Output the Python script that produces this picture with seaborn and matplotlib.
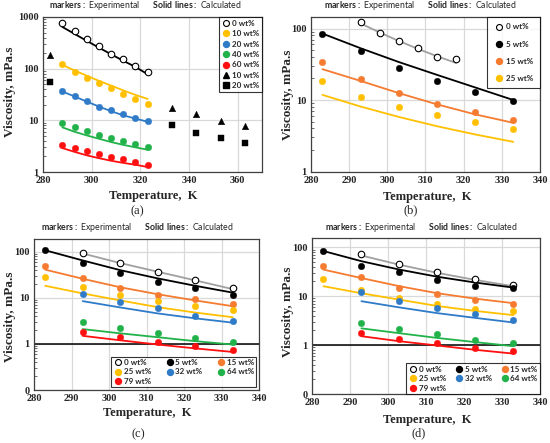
import numpy as np
import pandas as pd
import matplotlib
matplotlib.use("Agg")
import matplotlib.pyplot as plt
import seaborn as sns
from matplotlib.lines import Line2D
from matplotlib.ticker import FixedLocator, FixedFormatter, LogLocator, NullFormatter

sns.set_style("white")
plt.rcParams["mathtext.fontset"] = "custom"
plt.rcParams["mathtext.rm"] = "Lato"
plt.rcParams["mathtext.bf"] = "Lato:bold"
plt.rcParams["font.family"] = ["Liberation Serif", "DejaVu Serif"]

YEL = "#FFC000"; BLU = "#2F7BC8"; GRN = "#22B24A"; RED = "#FF1010"
ORG = "#F47B30"; GRY = "#A0A0A0"; BLK = "#000000"

# ---------------- Panel (a) ----------------
a_T = [288, 293, 298, 303, 308, 313, 318, 323]
a_labels = ["0 wt%", "10 wt%", "20 wt%", "40 wt%", "60 wt%"]
a_exp0 = [760, 540, 375, 272, 195, 152, 115, 88]
a_exp10 = [122, 88, 66, 52, 42, 33, 26, 21]
a_exp20 = [37, 29, 23.5, 18.5, 15.5, 13, 11, 9.6]
a_exp40 = [9.0, 7.3, 6.3, 5.3, 4.6, 4.0, 3.55, 3.05]
a_exp60 = [3.3, 2.85, 2.5, 2.2, 1.95, 1.75, 1.55, 1.38]
a_cal0 = [640, 470, 345, 255, 190, 142, 108, 78]
a_cal10 = [118, 92, 73, 58, 47, 38, 31, 26]
a_cal20 = [36, 29, 23, 18.5, 15, 12.5, 10.8, 9.4]
a_cal40 = [7.3, 6.0, 5.1, 4.4, 3.8, 3.35, 3.0, 2.7]
a_cal60 = [2.9, 2.45, 2.1, 1.85, 1.65, 1.5, 1.38, 1.25]
a_T2 = [283, 333, 343, 353, 363]
a_tri10 = [180, 17.5, 13, 9.6, 7.6]
a_sq20 = [55, 8.0, 5.8, 4.6, 3.7]

# ---------------- Panel (b) ----------------
b_T0 = [293, 298, 303, 308, 313, 318]
b_exp0 = [123, 88, 67, 53, 40, 38]
b_cal0 = [118, 88, 67, 52, 41, 33]
b_T = [283, 293, 303, 313, 323, 333]
b_labels = ["0 wt%", "5 wt%", "15 wt%", "25 wt%"]
b_exp5 = [85, 48.6, 27.9, 18.5, 13, 9.7]
b_exp15 = [34.5, 19.4, 12.4, 8.8, 6.7, 5.3]
b_exp25 = [18.5, 11, 8.0, 6.1, 4.9, 3.9]
b_cal5 = [85, 53, 34, 22.5, 15, 10]
b_cal15 = [27, 18.5, 12.5, 8.7, 6.3, 4.8]
b_cal25 = [11.8, 8.1, 5.8, 4.3, 3.3, 2.6]

# ---------------- Panels (c), (d) ----------------
cd_T = [283, 293, 303, 313, 323, 333]
cd_T5 = [293, 303, 313, 323, 333]
cd_labels = ["0 wt%", "5 wt%", "15 wt%", "25 wt%", "32 wt%", "64 wt%", "79 wt%"]
c_exp0 = [95, 56, 36, 24.5, 16.6]
c_cal0 = [92, 57, 37, 24, 15.5]
c_exp5 = [109, 58, 34, 22.5, 16, 11.6]
c_cal5 = [108, 65, 40, 26.5, 18.3, 13]
c_exp15 = [49, 27, 16.8, 11.6, 9.3, 7.2]
c_cal15 = [41, 26, 17, 12, 8.8, 6.6]
c_exp25 = [28, 17.4, 11.6, 8.5, 6.6, 5.4]
c_cal25 = [18.3, 12.5, 8.8, 6.3, 4.8, 3.8]
c_exp32 = [12, 8.1, 5.9, 4.1, 3.2]
c_cal32 = [8.5, 6.2, 4.6, 3.6, 2.9]
c_exp64 = [3.0, 2.24, 1.7, 1.34, 1.11]
c_cal64 = [2.1, 1.7, 1.4, 1.15, 0.97]
c_exp79 = [1.85, 1.39, 1.11, 0.91, 0.74]
c_cal79 = [1.5, 1.2, 0.97, 0.8, 0.67]

d_exp0 = [73, 46, 31.6, 22.7, 17.3]
d_cal0 = [68, 44, 30, 21.5, 16]
d_exp5 = [85.5, 42, 30.6, 21.3, 16.1, 14.6]
d_cal5 = [84, 52, 35, 25, 19, 15]
d_exp15 = [40.6, 24.6, 14.8, 11.1, 8.3, 6.9]
d_cal15 = [35, 23.5, 16, 11.5, 8.9, 7.2]
d_exp25 = [23, 13.7, 9.1, 6.8, 5.5, 4.9]
d_cal25 = [16, 11.5, 8.5, 6.3, 5.0, 4.1]
d_exp32 = [12.2, 8.1, 5.7, 4.3, 3.25]
d_cal32 = [7.9, 5.9, 4.5, 3.6, 2.9]
d_exp64 = [2.83, 2.1, 1.68, 1.3, 1.13]
d_cal64 = [2.2, 1.75, 1.4, 1.15, 0.95]
d_exp79 = [1.78, 1.34, 1.08, 0.89, 0.75]
d_cal79 = [1.52, 1.2, 0.98, 0.8, 0.67]

W, H = 550, 443
fig = plt.figure(figsize=(W / 100, H / 100), dpi=100)


def mk_ax(l, r, t, b):
    return fig.add_axes([l / W, 1 - b / H, (r - l) / W, (b - t) / H])


TICKFONT = dict(family="Liberation Serif", weight="bold", size=7.5)
LEGFONT = {"family": "Lato", "weight": "bold", "size": 5.8}
MS = 22


def style_ax(ax, xlim, xticks, ylim, yticks, ylabels):
    ax.set_yscale("log")
    ax.set_xlim(*xlim)
    ax.set_ylim(*ylim)
    ax.set_xticks(xticks)
    ax.set_xticklabels([str(t) for t in xticks])
    ax.yaxis.set_major_locator(FixedLocator(yticks))
    ax.yaxis.set_major_formatter(FixedFormatter(ylabels))
    ax.yaxis.set_minor_locator(LogLocator(base=10, subs=np.arange(2, 10)))
    ax.yaxis.set_minor_formatter(NullFormatter())
    ax.grid(True, which="major", color="#D9D9D9", lw=0.9)
    ax.set_axisbelow(True)
    for s in ax.spines.values():
        s.set_color("#404040")
        s.set_linewidth(0.9)
    ax.tick_params(axis="both", which="major", length=0, pad=3)
    ax.tick_params(axis="y", which="minor", direction="in", length=2.5,
                   width=0.6, color="#555555", left=True)
    for lab in ax.get_xticklabels() + ax.get_yticklabels():
        lab.set_fontproperties(TICKFONT)
    ax.set_xlabel("")
    ax.set_ylabel("")


def pts(ax, x, y, color, marker="o", open_=False):
    if open_:
        sns.scatterplot(x=x, y=y, ax=ax, marker=marker, color="white",
                        edgecolor="black", linewidth=0.8, s=MS, legend=False, zorder=4)
    else:
        sns.scatterplot(x=x, y=y, ax=ax, marker=marker, color=color,
                        edgecolor=color, linewidth=0.3, s=MS, legend=False, zorder=4)


def line(ax, x, y, color):
    sns.lineplot(x=x, y=y, ax=ax, color=color, lw=1.3, estimator=None,
                 sort=False, legend=False, zorder=3)


def handle(color, marker="o", open_=False):
    if open_:
        return Line2D([], [], ls="none", marker=marker, markersize=4.3,
                      markerfacecolor="white", markeredgecolor="black", markeredgewidth=0.8)
    return Line2D([], [], ls="none", marker=marker, markersize=4.3,
                  markerfacecolor=color, markeredgecolor=color)


def title(x, y):
    fig.text(x / W, 1 - y / H,
             r"$\bf{markers:}$ Experimental      $\bf{Solid\ lines:}$ Calculated",
             ha="center", va="center", fontsize=6.3, family="Lato")


def texts(xlab, ylab, plab):
    fig.text(xlab[0] / W, 1 - xlab[1] / H, "Temperature,  K", ha="center", va="center",
             family="Liberation Serif", weight="bold", fontsize=9)
    fig.text(ylab[0] / W, 1 - ylab[1] / H, "Viscosity, mPa.s", ha="center", va="center",
             rotation=90, family="Liberation Serif", weight="bold", fontsize=9.5)
    fig.text(plab[0] / W, 1 - plab[1] / H, plab[2], ha="center", va="center",
             family="Liberation Serif", fontsize=9)


def frame(lg):
    lg.get_frame().set_linewidth(0.8)


# ---- (a)
axa = mk_ax(43, 262, 17, 172)
a_cols = [BLK, YEL, BLU, GRN, RED]
a_exps = [a_exp0, a_exp10, a_exp20, a_exp40, a_exp60]
a_cals = [a_cal0, a_cal10, a_cal20, a_cal40, a_cal60]
for c, k in zip(a_cols, a_cals):
    line(axa, a_T, k, c)
for i, (c, e) in enumerate(zip(a_cols, a_exps)):
    pts(axa, a_T, e, c, open_=(i == 0))
pts(axa, a_T2, a_tri10, BLK, marker="^")
pts(axa, a_T2, a_sq20, BLK, marker="s")
style_ax(axa, (280, 370), [280, 300, 320, 340, 360], (1, 1000),
         [1, 10, 100, 1000], ["1", "10", "100", "1000"])
ha = [handle(c, open_=(i == 0)) for i, c in enumerate(a_cols)] + \
     [handle(BLK, "^"), handle(BLK, "s")]
la = a_labels + ["10 wt%", "20 wt%"]
frame(axa.legend(ha, la, loc="upper right", bbox_to_anchor=(1.0, 1.0), borderaxespad=0.0,
                 prop=LEGFONT, frameon=True, fancybox=False, edgecolor="black",
                 handletextpad=0.1, labelspacing=0.42, borderpad=0.35, handlelength=1.2))
title(145, 6)
texts((153, 196), (10, 92), (137, 211, "(a)"))

# ---- (b)
axb = mk_ax(311, 540, 17, 171.5)
line(axb, b_T0, b_cal0, GRY)
for c, k in zip([BLK, ORG, YEL], [b_cal5, b_cal15, b_cal25]):
    line(axb, b_T, k, c)
pts(axb, b_T0, b_exp0, BLK, open_=True)
for c, e in zip([BLK, ORG, YEL], [b_exp5, b_exp15, b_exp25]):
    pts(axb, b_T, e, c)
style_ax(axb, (280, 340), list(range(280, 341, 10)), (1, 145),
         [1, 10, 100], ["1", "10", "100"])
hb = [handle(BLK, open_=True), handle(BLK), handle(ORG), handle(YEL)]
frame(axb.legend(hb, b_labels, loc="upper right", bbox_to_anchor=(1.0, 1.0), borderaxespad=0.0,
                 prop=LEGFONT, frameon=True, fancybox=False, edgecolor="black",
                 handletextpad=0.1, labelspacing=1.25, borderpad=0.8, handlelength=1.5))
title(420, 6)
texts((427, 197), (288, 95), (411, 210, "(b)"))


def panel_cd(ax, ylim, exps, cals, pad, colsp):
    cols = [BLK, BLK, ORG, YEL, BLU, GRN, RED]
    lcols = [GRY, BLK, ORG, YEL, BLU, GRN, RED]
    xs = [cd_T5, cd_T, cd_T, cd_T, cd_T5, cd_T5, cd_T5]
    for x, k, c in zip(xs, cals, lcols):
        line(ax, x, k, c)
    for i, (x, e, c) in enumerate(zip(xs, exps, cols)):
        pts(ax, x, e, c, open_=(i == 0))
    style_ax(ax, (280, 340), list(range(280, 341, 10)), ylim,
             [0.1, 1, 10, 100], ["0", "1", "10", "100"])
    ax.axhline(1, color="black", lw=1.1, zorder=2)
    hs = [handle(c, open_=(i == 0)) for i, c in enumerate(cols)]
    order = [0, 3, 6, 1, 4, 2, 5]
    frame(ax.legend([hs[i] for i in order], [cd_labels[i] for i in order], ncol=3,
                    loc="lower right", bbox_to_anchor=(1.0, 0.0), borderaxespad=pad,
                    prop=LEGFONT, frameon=True, fancybox=False, edgecolor="black",
                    handletextpad=0.1, labelspacing=0.3, borderpad=0.3,
                    handlelength=1.2, columnspacing=colsp))


# ---- (c)
axc = mk_ax(34, 259, 239, 390)
panel_cd(axc, (0.1, 190),
         [c_exp0, c_exp5, c_exp15, c_exp25, c_exp32, c_exp64, c_exp79],
         [c_cal0, c_cal5, c_cal15, c_cal25, c_cal32, c_cal64, c_cal79], 0.35, 1.7)
title(137, 228)
texts((147, 413), (10, 317), (138, 434, "(c)"))

# ---- (d)
axd = mk_ax(312, 540, 238, 394)
panel_cd(axd, (0.1, 155),
         [d_exp0, d_exp5, d_exp15, d_exp25, d_exp32, d_exp64, d_exp79],
         [d_cal0, d_cal5, d_cal15, d_cal25, d_cal32, d_cal64, d_cal79], 0.0, 1.0)
title(421, 228)
texts((427, 420), (288, 312), (419, 433, "(d)"))

fig.savefig("out.png", dpi=100, facecolor="white")
